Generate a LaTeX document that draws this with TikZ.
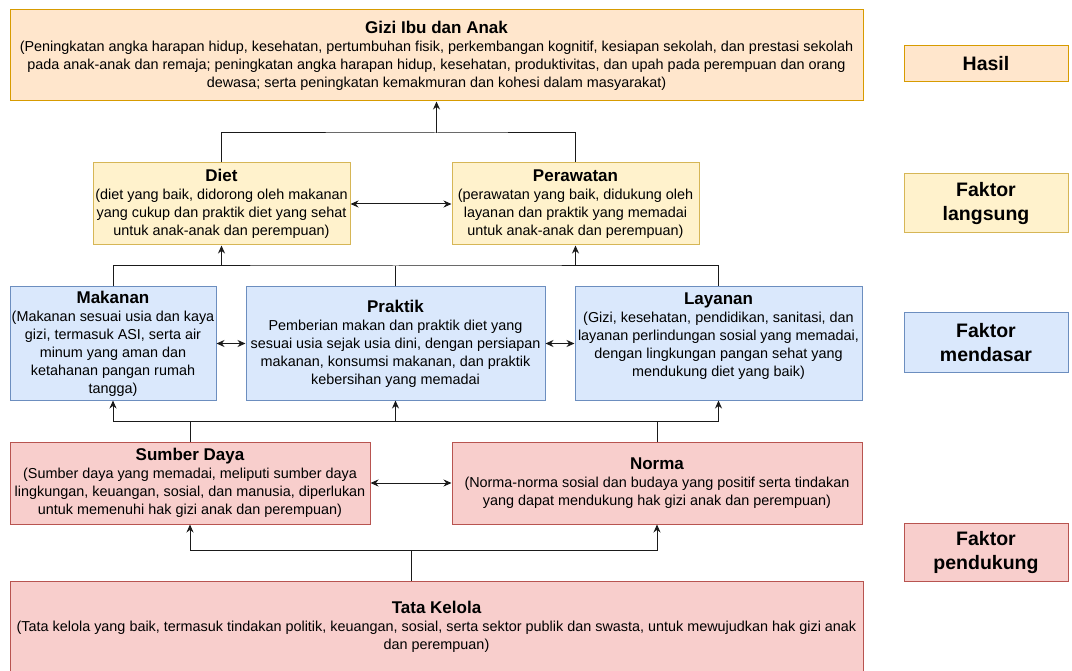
\documentclass[tikz,border=0pt]{standalone}
\usepackage{fontspec}
\setmainfont{Liberation Sans}
\usetikzlibrary{arrows.meta}
\definecolor{orF}{HTML}{FFE6CC}\definecolor{orD}{HTML}{D79B00}
\definecolor{yeF}{HTML}{FFF2CC}\definecolor{yeD}{HTML}{D6B656}
\definecolor{blF}{HTML}{DAE8FC}\definecolor{blD}{HTML}{6C8EBF}
\definecolor{reF}{HTML}{F8CECC}\definecolor{reD}{HTML}{B85450}
\definecolor{lineC}{HTML}{1A1A1A}
\newcommand{\ttl}[1]{{\fontsize{17}{20}\selectfont\bfseries #1}}
\begin{document}
\begin{tikzpicture}[x=1pt,y=-1pt,
  box/.style={rectangle, line width=1pt, align=center, inner sep=1pt,
    font=\fontsize{14.4}{18}\selectfont},
  obox/.style={box, fill=orF, draw=orD},
  ybox/.style={box, fill=yeF, draw=yeD},
  bbox/.style={box, fill=blF, draw=blD},
  rbox/.style={box, fill=reF, draw=reD},
  lbl/.style={font=\fontsize{19.5}{24}\selectfont\bfseries, minimum width=164pt},
  conn/.style={draw=lineC, line width=1pt},
  arr/.style={conn, -{Stealth[length=8pt,width=7pt]}},
  darr/.style={conn, {Stealth[length=8pt,width=7pt]}-{Stealth[length=8pt,width=7pt]}}]
\useasboundingbox (0,0) rectangle (1072,671);

% right labels
\node[obox, lbl, minimum height=36pt] (hasil) at (986,64) {Hasil};
\node[ybox, lbl, minimum height=59pt] (langsung) at (986,203.5) {Faktor\\langsung};
\node[bbox, lbl, minimum height=59pt] (mendasar) at (986,342.5) {Faktor\\mendasar};
\node[rbox, lbl, minimum height=58pt] (pendukung) at (986,552) {Faktor\\pendukung};

% main boxes
\node[obox, minimum width=853pt, minimum height=91pt] (gizi) at (436.5,55.5)
  {\ttl{Gizi Ibu dan Anak}\\
   (Peningkatan angka harapan hidup, kesehatan, pertumbuhan fisik, perkembangan kognitif, kesiapan sekolah, dan prestasi sekolah\\
   pada anak-anak dan remaja; peningkatan angka harapan hidup, kesehatan, produktivitas, dan upah pada perempuan dan orang\\
   dewasa; serta peningkatan kemakmuran dan kohesi dalam masyarakat)};

\node[ybox, minimum width=257pt, minimum height=82pt] (diet) at (221.5,204)
  {\ttl{Diet}\\
   (diet yang baik, didorong oleh makanan\\
   yang cukup dan praktik diet yang sehat\\
   untuk anak-anak dan perempuan)};
\node[ybox, minimum width=247pt, minimum height=82pt] (per) at (575.5,204)
  {\ttl{Perawatan}\\
   (perawatan yang baik, didukung oleh\\
   layanan dan praktik yang memadai\\
   untuk anak-anak dan perempuan)};

\node[bbox, minimum width=206pt, minimum height=113pt] (mak) at (113,343.5)
  {\ttl{Makanan}\\
   (Makanan sesuai usia dan kaya\\
   gizi, termasuk ASI, serta air\\
   minum yang aman dan\\
   ketahanan pangan rumah\\
   tangga)};
\node[bbox, minimum width=299pt, minimum height=113pt] (prak) at (395.5,343.5)
  {\ttl{Praktik}\\
   Pemberian makan dan praktik diet yang\\
   sesuai usia sejak usia dini, dengan persiapan\\
   makanan, konsumsi makanan, dan praktik\\
   kebersihan yang memadai};
\node[bbox, minimum width=287pt, minimum height=113pt] (lay) at (718.5,343.5)
  {\ttl{Layanan}\\
   (Gizi, kesehatan, pendidikan, sanitasi, dan\\
   layanan perlindungan sosial yang memadai,\\
   dengan lingkungan pangan sehat yang\\
   mendukung diet yang baik)\\ \mbox{}};

\node[rbox, minimum width=360pt, minimum height=82pt] (sd) at (190,483)
  {\ttl{Sumber Daya}\\
   (Sumber daya yang memadai, meliputi sumber daya\\
   lingkungan, keuangan, sosial, dan manusia, diperlukan\\
   untuk memenuhi hak gizi anak dan perempuan)};
\node[rbox, minimum width=410pt, minimum height=82pt] (nor) at (657,483)
  {\ttl{Norma}\\
   (Norma-norma sosial dan budaya yang positif serta tindakan\\
   yang dapat mendukung hak gizi anak dan perempuan)};

\node[rbox, minimum width=853pt, minimum height=91pt] (tata) at (436.5,626.5)
  {\ttl{Tata Kelola}\\
   (Tata kelola yang baik, termasuk tindakan politik, keuangan, sosial, serta sektor publik dan swasta, untuk mewujudkan hak gizi anak\\
   dan perempuan)};

% connectors: direct -> outcome
\coordinate (j1) at (436.5,133);
\draw[conn] (diet.north) |- (j1) -| (per.north);
\draw[arr] (j1) -- (gizi.south);
\draw[darr] (diet.east) -- (per.west);

% underlying -> direct
\coordinate (j2) at (395.5,266);
\draw[conn] (mak.north) |- (j2) -| (lay.north);
\draw[conn] (prak.north) -- (j2);
\draw[arr] (diet.south |- j2) -- (diet.south);
\draw[arr] (per.south |- j2) -- (per.south);
\draw[darr] (mak.east) -- (prak.west);
\draw[darr] (prak.east) -- (lay.west);

% enabling -> underlying
\coordinate (j3) at (190,421);
\draw[conn] (sd.north) -- (j3);
\draw[conn] (nor.north) -- (nor.north |- j3);
\draw[arr] (j3) -| (mak.south);
\draw[arr] (j3) -| (lay.south);
\draw[arr] (prak.south |- j3) -- (prak.south);
\draw[darr] (sd.east) -- (nor.west);

% governance -> enabling
\coordinate (j4) at (411,550);
\draw[conn] (tata.north -| j4) -- (j4);
\draw[arr] (j4) -| (sd.south);
\draw[arr] (j4) -| (nor.south);
\end{tikzpicture}
\end{document}
